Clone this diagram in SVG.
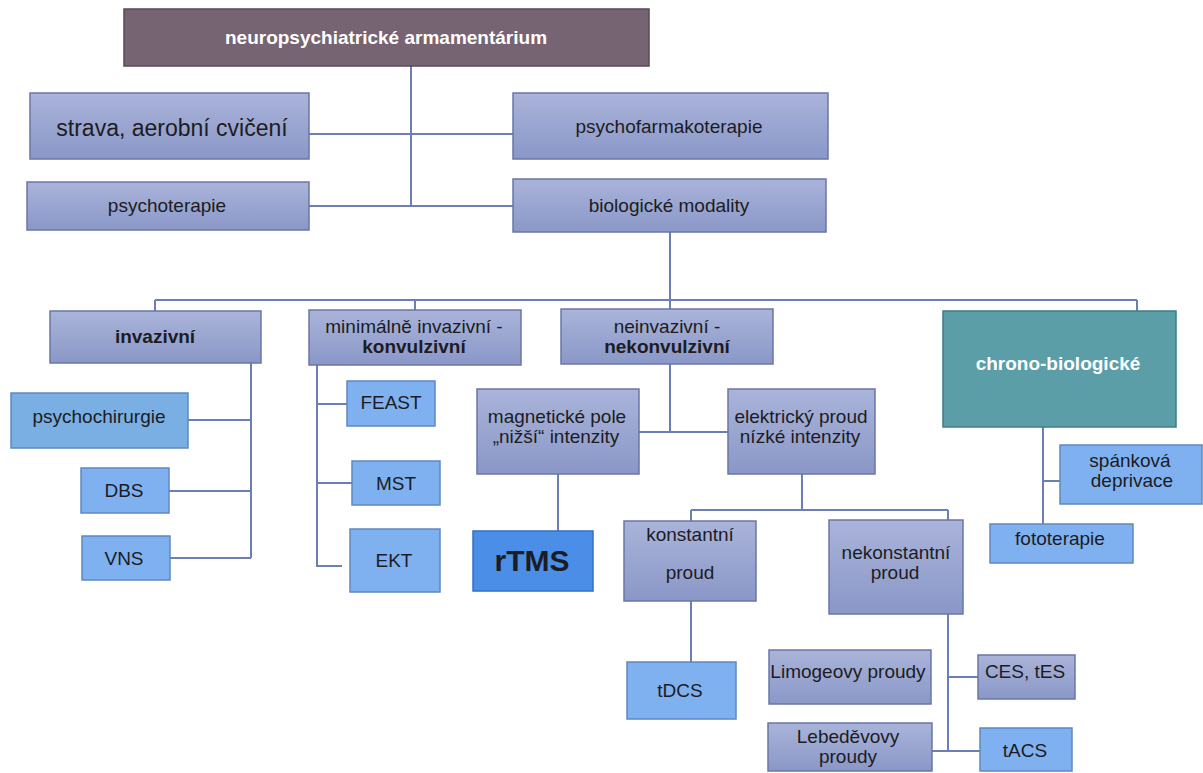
<svg xmlns="http://www.w3.org/2000/svg" width="1203" height="773" viewBox="0 0 1203 773">
<defs>
<linearGradient id="gMed" x1="0" y1="0" x2="0" y2="1">
<stop offset="0" stop-color="#aab4da"/>
<stop offset="1" stop-color="#8a97c7"/>
</linearGradient>
<style>
text{font-family:"Liberation Sans",Arial,sans-serif;font-size:19px;fill:#1c1c22;text-anchor:middle}
.b{font-weight:bold}
.w{fill:#ffffff}
.med{fill:url(#gMed);stroke:#6a76a6;stroke-width:1.5}
.lt{fill:#7fb1f1;stroke:#5f88c0;stroke-width:1.5}
.top{fill:#776472;stroke:#5a4856;stroke-width:1.5}
.teal{fill:#5b9ea8;stroke:#3f7c86;stroke-width:1.5}
.rt{fill:#4a8ee8;stroke:#356fc4;stroke-width:1.5}
.con path{fill:none;stroke:#6b7fb6;stroke-width:2}
</style>
</defs>
<rect width="1203" height="773" fill="#ffffff"/>
<g class="con" id="connectors">
<path d="M411 66V206M309 134H513M309 206H513"/>
<path d="M670 232V309M155 300H1137M155 300V311M415 300V310M1137 300V311"/>
<path d="M251 363V558M188 420H251M169 491H251M170 558H251"/>
<path d="M317 365V566H342M317 404H347M317 483H352"/>
<path d="M670 364V432M639 432H728"/>
<path d="M558 474V531"/>
<path d="M802 474V510M691 510H948M691 510V521M948 510V520"/>
<path d="M691 601V662"/>
<path d="M948 614V751M948 677H978M932 751H980"/>
<path d="M1043 427V524M1043 481H1060"/>
</g>
<g id="n-root"><rect class="top" x="124" y="9" width="525" height="57"/><text class="b w" x="386" y="44">neuropsychiatrické armamentárium</text></g>
<g id="n-strava"><rect class="med" x="30" y="93" width="279" height="66"/><text x="172" y="136" style="font-size:23px">strava, aerobní cvičení</text></g>
<g id="n-psychofarm"><rect class="med" x="513" y="93" width="315" height="66"/><text x="669" y="133">psychofarmakoterapie</text></g>
<g id="n-psychoter"><rect class="med" x="27" y="182" width="282" height="48"/><text x="167" y="212">psychoterapie</text></g>
<g id="n-biol"><rect class="med" x="513" y="179" width="313" height="53"/><text x="669" y="212">biologické modality</text></g>
<g id="n-invaz"><rect class="med" x="50" y="311" width="211" height="52"/><text class="b" x="155" y="343">invazivní</text></g>
<g id="n-minimal"><rect class="med" x="309" y="310" width="212" height="55"/><text x="414" y="333">minimálně invazivní -</text><text class="b" x="414" y="353">konvulzivní</text></g>
<g id="n-neinvaz"><rect class="med" x="561" y="309" width="212" height="55"/><text x="667" y="333">neinvazivní -</text><text class="b" x="667" y="353">nekonvulzivní</text></g>
<g id="n-chrono"><rect class="teal" x="943" y="311" width="233" height="116"/><text class="b w" x="1058" y="370">chrono-biologické</text></g>
<g id="n-psychochir"><rect class="lt" x="11" y="393" width="177" height="55" style="fill:#7aafe3"/><text x="99" y="423">psychochirurgie</text></g>
<g id="n-dbs"><rect class="lt" x="81" y="468" width="88" height="45"/><text x="124" y="497">DBS</text></g>
<g id="n-vns"><rect class="lt" x="82" y="536" width="88" height="44"/><text x="124" y="565">VNS</text></g>
<g id="n-feast"><rect class="lt" x="347" y="381" width="88" height="45"/><text x="391" y="409">FEAST</text></g>
<g id="n-mst"><rect class="lt" x="352" y="461" width="88" height="44"/><text x="396" y="490">MST</text></g>
<g id="n-ekt"><rect class="lt" x="350" y="529" width="90" height="63"/><text x="394" y="567">EKT</text></g>
<g id="n-magnet"><rect class="med" x="477" y="389" width="162" height="85"/><text x="557" y="423">magnetické pole</text><text x="556" y="443">„nižší“ intenzity</text></g>
<g id="n-elektr"><rect class="med" x="728" y="389" width="147" height="85"/><text x="801" y="423">elektrický proud</text><text x="800" y="443">nízké intenzity</text></g>
<g id="n-rtms"><rect class="rt" x="473" y="531" width="120" height="60"/><text class="b" x="532" y="571" style="font-size:30px">rTMS</text></g>
<g id="n-konst"><rect class="med" x="624" y="521" width="132" height="80"/><text x="690" y="541">konstantní</text><text x="690" y="579">proud</text></g>
<g id="n-nekonst"><rect class="med" x="829" y="520" width="134" height="94"/><text x="896" y="559">nekonstantní</text><text x="895" y="579">proud</text></g>
<g id="n-spank"><rect class="lt" x="1060" y="445" width="142" height="59"/><text x="1130" y="467">spánková</text><text x="1132" y="487">deprivace</text></g>
<g id="n-foto"><rect class="lt" x="990" y="524" width="143" height="39"/><text x="1060" y="545">fototerapie</text></g>
<g id="n-tdcs"><rect class="lt" x="627" y="662" width="109" height="57"/><text x="680" y="697">tDCS</text></g>
<g id="n-limoge"><rect class="med" x="769" y="650" width="162" height="54"/><text x="848" y="678">Limogeovy proudy</text></g>
<g id="n-ces"><rect class="med" x="978" y="655" width="97" height="44"/><text x="1025" y="678">CES, tES</text></g>
<g id="n-lebed"><rect class="med" x="768" y="723" width="164" height="48"/><text x="848" y="743">Lebeděvovy</text><text x="848" y="763">proudy</text></g>
<g id="n-tacs"><rect class="lt" x="980" y="728" width="92" height="43"/><text x="1025" y="757">tACS</text></g>
</svg>
